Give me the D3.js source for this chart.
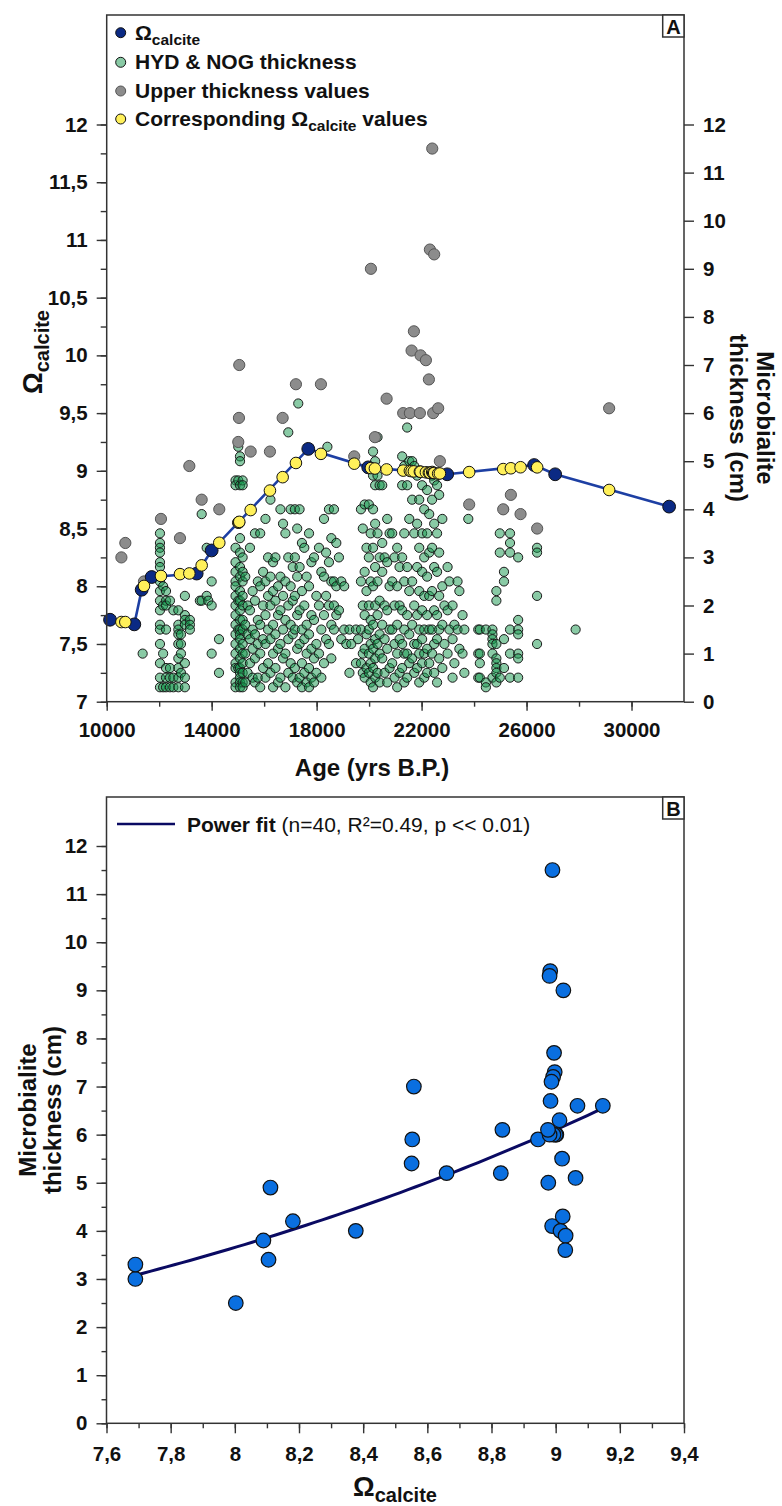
<!DOCTYPE html>
<html>
<head>
<meta charset="utf-8">
<script src="https://cdn.jsdelivr.net/npm/d3@7"></script>
<style>
  body { margin: 0; background: #fff; }
  svg text { font-family: "Liberation Sans", Arial, sans-serif; font-weight: bold; fill: #111; }
</style>
</head>
<body>
<svg id="chart" width="782" height="1506"></svg>
<script>
// Ωcalcite record (blue line)
const omegaAge = [10127, 11052, 11333, 11714, 13429, 14000, 17681, 19966, 22975, 26290, 27090, 31433];
const omegaVal = [7.71, 7.67, 7.97, 8.08, 8.11, 8.31, 9.19, 9.03, 8.97, 9.05, 8.97, 8.69];

// upper thickness values, their ages and the corresponding Ωcalcite
const upperAge = [10560, 10710, 11421, 12068, 12792, 13149, 13619, 14290, 15014, 15040, 15052, 15486, 16221, 16705,
  17211, 18164, 19433, 20069, 20221, 20667, 21299, 21554, 21619, 21707, 21935, 21962, 22164, 22278, 22316, 22406,
  22442, 22480, 22632, 22697, 23813, 25110, 25402, 25771, 26404, 29147];
const upperThick = [3.0, 3.3, 2.5, 3.8, 3.4, 4.9, 4.2, 4.0, 5.4, 5.9, 7.0, 5.2, 5.2, 5.9,
  6.6, 6.6, 5.1, 9.0, 5.5, 6.3, 6.0, 6.0, 7.3, 7.7, 6.0, 7.2, 7.1, 6.7, 9.4, 11.5,
  6.0, 9.3, 6.1, 5.0, 4.1, 4.0, 4.3, 3.9, 3.6, 6.1];
const upperOmega = [7.690, 7.690, 8.003, 8.089, 8.105, 8.111, 8.181, 8.377, 8.551, 8.553, 8.558, 8.660, 8.829, 8.945,
  9.068, 9.147, 9.062, 9.024, 9.020, 9.012, 9.002, 9.000, 8.997, 8.995, 8.993, 8.992, 8.987, 8.984, 8.983, 8.990,
  8.981, 8.981, 8.976, 8.977, 8.989, 9.015, 9.022, 9.031, 9.030, 8.834];

// HYD & NOG thickness (cm), grouped by sample age
const hydNog = [
  [11370, [1.0]],
  [12030, [3.5, 3.3, 3.2, 3.1, 2.9, 2.8, 2.6, 2.5, 2.3, 2.1, 1.9, 1.6, 1.5, 1.2, 0.8, 0.5, 0.3]],
  [12150, [2.4, 2.0, 1.0, 0.3]],
  [12260, [2.3, 2.1, 2.0, 1.5, 0.7, 0.5, 0.3]],
  [12410, [2.1, 0.7, 0.5, 0.3]],
  [12540, [1.9, 0.5, 0.3]],
  [12730, [1.9, 1.6, 1.5, 1.4, 1.2, 0.9, 0.7, 0.5, 0.3]],
  [12830, [1.4, 1.2, 1.0, 0.6]],
  [12980, [2.2, 1.8, 1.7, 1.6, 0.8, 0.5, 0.3]],
  [13170, [1.7, 1.6, 1.5]],
  [13550, [2.1]],
  [13620, [3.9, 2.1]],
  [13810, [3.2, 2.2]],
  [13870, [2.1]],
  [14000, [2.5, 2.0, 1.0]],
  [14280, [1.3, 0.6]],
  [14910, [4.6, 4.5, 3.2, 2.9, 2.7, 2.5, 2.4, 2.2, 2.0, 1.8, 1.6, 1.4, 1.2, 1.0, 0.8, 0.7, 0.4, 0.3]],
  [15014, [5.3, 4.6, 2.1, 1.5, 0.7]],
  [15080, [5.1, 5.0, 4.5, 3.4, 3.1, 2.8, 2.6, 2.3, 2.1, 1.9, 1.7, 1.5, 1.4, 1.3, 1.1, 0.9, 0.7, 0.6, 0.5, 0.4, 0.3]],
  [15180, [4.6, 4.5, 3.0, 2.7, 2.5, 2.2, 2.0, 1.7, 1.5, 1.2, 1.0, 0.8, 0.6, 0.4, 0.3]],
  [15280, [2.6, 1.6, 1.0, 0.4]],
  [15370, [2.0, 1.4, 0.6]],
  [15460, [3.2, 1.9, 1.3, 0.8]],
  [15560, [2.3, 1.5, 1.1, 0.5]],
  [15650, [3.5, 2.1, 1.4, 0.9, 0.4]],
  [15760, [2.5, 1.7, 1.2, 0.5]],
  [15850, [3.5, 2.4, 1.6, 1.0, 0.3]],
  [15960, [2.7, 2.0, 1.3, 0.7]],
  [16050, [3.8, 2.5, 1.8, 1.2, 0.5]],
  [16150, [3.0, 2.2, 1.5, 0.8]],
  [16240, [4.2, 2.6, 2.0, 1.3, 0.6]],
  [16340, [2.9, 2.3, 1.6, 1.0, 0.3]],
  [16430, [3.0, 2.1, 1.4, 0.7]],
  [16530, [2.4, 1.8, 1.1, 0.4]],
  [16620, [4.0, 2.6, 1.9, 1.2, 0.5]],
  [16720, [3.7, 2.2, 1.5, 0.9]],
  [16810, [3.5, 2.5, 1.7, 1.0, 0.3]],
  [16920, [5.6, 3.0, 2.0, 1.3, 0.6]],
  [17010, [4.0, 2.4, 1.6, 0.8]],
  [17090, [2.8, 2.1, 1.4, 0.5]],
  [17170, [4.0, 3.0, 2.2, 1.5, 0.7]],
  [17260, [3.6, 2.6, 1.8, 1.1, 0.4]],
  [17300, [6.2]],
  [17350, [4.0, 2.8, 1.9, 1.2, 0.5]],
  [17440, [3.3, 2.3, 1.5, 0.8, 0.3]],
  [17530, [3.2, 2.0, 1.3, 0.6]],
  [17620, [2.6, 1.6, 1.0, 0.4]],
  [17710, [3.5, 2.4, 1.4, 0.7, 0.3]],
  [17800, [2.9, 1.8, 1.1, 0.5]],
  [17900, [3.0, 1.7, 0.9, 0.4]],
  [17990, [2.2, 1.2, 0.6]],
  [18090, [3.2, 2.0, 1.0]],
  [18180, [2.7, 1.5, 0.5]],
  [18280, [3.8, 2.6, 1.8, 0.8]],
  [18360, [3.1, 2.2, 1.3]],
  [18410, [5.3]],
  [18470, [4.0, 2.9, 2.0, 1.2]],
  [18560, [3.4, 2.5, 1.6, 0.9]],
  [18660, [4.0, 2.5, 2.0, 1.5]],
  [18750, [3.3, 2.4, 1.8]],
  [18850, [3.0, 1.9]],
  [18940, [2.5, 1.3]],
  [19050, [2.4, 1.5]],
  [19130, [1.2]],
  [19250, [1.5, 0.6]],
  [19320, [1.2]],
  [19500, [1.5, 0.8]],
  [19580, [1.3]],
  [19690, [4.0, 2.5, 1.5, 0.8]],
  [19760, [3.6, 2.0, 1.0, 0.6]],
  [19830, [4.1, 2.7, 1.8, 1.1, 0.5]],
  [19900, [3.2, 2.3, 1.4, 0.7]],
  [19990, [4.1, 3.0, 2.0, 1.5, 1.0, 0.6]],
  [20060, [3.5, 2.5, 1.7, 1.2, 0.8, 0.4]],
  [20150, [5.2, 4.7, 4.0, 3.2, 2.4, 1.6, 1.1, 0.7, 0.3]],
  [20230, [5.0, 4.5, 3.7, 2.8, 2.0, 1.3, 0.9, 0.5]],
  [20320, [5.5, 4.7, 3.5, 2.5, 1.8, 1.2, 0.6]],
  [20400, [4.5, 3.0, 2.1, 1.4, 1.0, 0.4]],
  [20500, [4.5, 3.3, 2.7, 1.6, 0.9]],
  [20590, [3.0, 2.0, 1.3, 0.6]],
  [20690, [3.8, 2.9, 1.9, 1.1, 0.4]],
  [20780, [3.5, 2.4, 1.5, 0.7]],
  [20880, [3.5, 2.5, 1.5, 0.8]],
  [20970, [3.0, 2.0, 1.2, 0.5]],
  [21070, [3.2, 2.4, 1.6, 1.0, 0.3]],
  [21160, [2.8, 2.0, 1.3, 0.6]],
  [21260, [5.1, 4.5, 3.0, 1.9, 1.2, 0.7]],
  [21340, [4.9, 3.5, 2.5, 1.5, 1.0, 0.4]],
  [21450, [5.7, 4.5, 2.8, 1.8, 1.0, 0.5]],
  [21530, [5.0, 3.8, 2.3, 1.4, 0.8]],
  [21640, [5.0, 4.2, 2.5, 1.6, 0.9]],
  [21720, [4.9, 3.5, 2.0, 1.2, 0.6]],
  [21830, [4.7, 3.7, 2.8, 1.8, 1.2, 0.7]],
  [21910, [4.2, 3.2, 2.3, 1.5, 1.0, 0.4]],
  [22020, [4.5, 3.5, 2.7, 1.9, 1.3, 0.8]],
  [22100, [4.0, 3.0, 2.2, 1.5, 1.0, 0.5]],
  [22210, [4.4, 3.5, 2.6, 1.8, 1.1, 0.6]],
  [22290, [3.9, 3.1, 2.2, 1.5, 0.8]],
  [22400, [4.7, 4.2, 3.2, 2.3, 1.5, 1.0]],
  [22480, [4.6, 3.7, 2.8, 1.9, 1.2, 0.6]],
  [22590, [4.5, 3.5, 2.7, 1.8, 1.3, 0.4]],
  [22670, [4.3, 3.1, 2.2, 1.5, 0.9]],
  [22790, [3.8, 2.4, 1.6, 0.7]],
  [22870, [2.0, 1.2]],
  [22990, [2.8, 1.9, 1.0]],
  [23060, [2.5, 1.5]],
  [23180, [2.0, 1.3, 0.5]],
  [23250, [1.6, 0.8]],
  [23370, [2.5, 1.5]],
  [23440, [2.3, 1.1]],
  [23560, [1.8, 1.0]],
  [23630, [1.5, 0.6]],
  [23780, [3.8]],
  [24160, [1.5, 1.0, 0.5]],
  [24220, [1.5, 1.0, 0.8, 0.5]],
  [24450, [1.5, 0.4, 0.3]],
  [24700, [1.5, 1.4, 1.3, 1.2, 1.0, 0.5]],
  [24850, [2.3, 2.1, 1.2, 0.9, 0.8, 0.7, 0.6, 0.4]],
  [24980, [3.5, 3.1, 0.5]],
  [25140, [4.0, 2.7, 2.5, 1.3, 0.7]],
  [25370, [3.5, 3.3, 3.1, 1.5, 1.0, 0.5]],
  [25680, [3.0, 1.7, 1.5, 1.4, 1.0, 0.9, 0.5]],
  [26400, [3.2, 3.1, 2.2, 1.2]],
  [27870, [1.5]]
];

// power fit of thickness against Ωcalcite (panel B)
const fitCoef = 4.31e-4;
const fitExp = 4.35;

const ageTicks = [10000, 14000, 18000, 22000, 26000, 30000];
const legendA = ["Ω", "HYD & NOG thickness", "Upper thickness values", "Corresponding Ω"];

const svg = d3.select("#chart");
const comma = (d) => String(+d.toFixed(2)).replace(".", ",");
const axisColor = "#333";

function styleAxis(g, size) {
  g.select(".domain").remove();
  g.selectAll("line").attr("stroke", axisColor).attr("stroke-width", 1.4);
  g.selectAll("text").style("font-size", size + "px").attr("fill", "#111");
}

// ---------------- panel A ----------------
const A = { left: 106.7, right: 684, top: 15, bottom: 701.7 };
const xAge = d3.scaleLinear().domain([10000, 32000]).range([A.left, A.right]);
const yOmega = d3.scaleLinear().domain([7, 12]).range([A.bottom, 124.5]);
const yThick = d3.scaleLinear().domain([0, 12]).range([A.bottom, 124.5]);

const gA = svg.append("g");

const greens = hydNog.flatMap(([age, vals]) => vals.map((v) => [age, v]));
gA.append("g")
  .selectAll("circle")
  .data(greens)
  .enter()
  .append("circle")
  .attr("cx", (d) => xAge(d[0]))
  .attr("cy", (d) => yThick(d[1]))
  .attr("r", 4.6)
  .attr("fill", "rgb(20,150,75)")
  .attr("fill-opacity", 0.5)
  .attr("stroke", "#1a1a1a")
  .attr("stroke-width", 1);

gA.append("g")
  .selectAll("circle")
  .data(upperAge)
  .enter()
  .append("circle")
  .attr("cx", (d) => xAge(d))
  .attr("cy", (d, i) => yThick(upperThick[i]))
  .attr("r", 5.6)
  .attr("fill", "#8c8c8c")
  .attr("stroke", "#555")
  .attr("stroke-width", 1);

const line = d3
  .line()
  .x((d) => xAge(d[0]))
  .y((d) => yOmega(d[1]));
gA.append("path")
  .datum(omegaAge.map((d, i) => [d, omegaVal[i]]))
  .attr("fill", "none")
  .attr("stroke", "#1d3fa3")
  .attr("stroke-width", 2.6)
  .attr("d", line);

gA.append("g")
  .selectAll("circle")
  .data(omegaAge)
  .enter()
  .append("circle")
  .attr("cx", (d) => xAge(d))
  .attr("cy", (d, i) => yOmega(omegaVal[i]))
  .attr("r", 6.4)
  .attr("fill", "#0b2a84")
  .attr("stroke", "#111")
  .attr("stroke-width", 1);

gA.append("g")
  .selectAll("circle")
  .data(upperAge)
  .enter()
  .append("circle")
  .attr("cx", (d) => xAge(d))
  .attr("cy", (d, i) => yOmega(upperOmega[i]))
  .attr("r", 5.8)
  .attr("fill", "#fff05a")
  .attr("stroke", "#111")
  .attr("stroke-width", 1);

// frame
gA.append("rect")
  .attr("x", A.left).attr("y", A.top)
  .attr("width", A.right - A.left).attr("height", A.bottom - A.top)
  .attr("fill", "none").attr("stroke", axisColor).attr("stroke-width", 1.5);

// left axis
gA.append("g").attr("transform", `translate(${A.left},0)`)
  .call(d3.axisLeft(yOmega).tickValues(d3.range(28, 49).map((d) => d / 4)).tickSize(6).tickFormat(""))
  .call((g) => styleAxis(g, 20));
gA.append("g").attr("transform", `translate(${A.left},0)`)
  .call(d3.axisLeft(yOmega).tickValues(d3.range(14, 25).map((d) => d / 2)).tickSize(10).tickPadding(9).tickFormat(comma))
  .call((g) => styleAxis(g, 20.5));

// right axis
gA.append("g").attr("transform", `translate(${A.right},0)`)
  .call(d3.axisRight(yThick).tickValues(d3.range(0, 13)).tickSize(10).tickPadding(9))
  .call((g) => styleAxis(g, 20.5));

// bottom axis
gA.append("g").attr("transform", `translate(0,${A.bottom})`)
  .call(d3.axisBottom(xAge).tickValues(d3.range(10000, 32000, 2000)).tickSize(5).tickFormat(""))
  .call((g) => styleAxis(g, 20));
gA.append("g").attr("transform", `translate(0,${A.bottom})`)
  .call(d3.axisBottom(xAge).tickValues(ageTicks).tickSize(9).tickPadding(12).tickFormat(d3.format("d")))
  .call((g) => styleAxis(g, 20.5));

gA.append("text").attr("x", 372).attr("y", 776).attr("text-anchor", "middle")
  .style("font-size", "24px").text("Age (yrs B.P.)");

const omTitle = gA.append("text").attr("transform", "translate(42,352) rotate(-90)")
  .attr("text-anchor", "middle").style("font-size", "27px");
omTitle.append("tspan").text("Ω");
omTitle.append("tspan").attr("dy", 7).style("font-size", "20px").text("calcite");

const thTitle = gA.append("text").attr("transform", "translate(757,418) rotate(90)")
  .attr("text-anchor", "middle").style("font-size", "24px");
thTitle.append("tspan").attr("x", 0).attr("y", 0).text("Microbialite");
thTitle.append("tspan").attr("x", 0).attr("y", 27).text("thickness (cm)");

// legend A
const legColors = ["#0b2a84", "rgb(20,150,75)", "#8c8c8c", "#fff05a"];
const legY = [32.7, 62.3, 91, 119];
legendA.forEach((label, i) => {
  gA.append("circle").attr("cx", 120.7).attr("cy", legY[i]).attr("r", 5)
    .attr("fill", legColors[i]).attr("fill-opacity", i === 1 ? 0.5 : 1)
    .attr("stroke", i === 2 ? "#555" : "#111").attr("stroke-width", 1);
  const t = gA.append("text").attr("x", 135).attr("y", legY[i] + 7).style("font-size", "21px");
  t.append("tspan").text(label);
  if (i === 0 || i === 3) {
    t.append("tspan").attr("dy", 5).style("font-size", "15.5px").text("calcite");
  }
  if (i === 3) {
    t.append("tspan").attr("dy", -5).text(" values");
  }
});

gA.append("rect").attr("x", 662.7).attr("y", A.top).attr("width", A.right - 662.7).attr("height", 22)
  .attr("fill", "#fff").attr("stroke", axisColor).attr("stroke-width", 1.5);
gA.append("text").attr("x", 673.4).attr("y", 33.5).attr("text-anchor", "middle")
  .style("font-size", "20px").text("A");

// ---------------- panel B ----------------
const B = { left: 106.5, right: 684, top: 797, bottom: 1423.3 };
const xOm = d3.scaleLinear().domain([7.6, 9.4]).range([B.left, B.right]);
const yTh = d3.scaleLinear().domain([0, 12]).range([B.bottom, 846]);

const gB = svg.append("g");

gB.append("rect")
  .attr("x", B.left).attr("y", B.top)
  .attr("width", B.right - B.left).attr("height", B.bottom - B.top)
  .attr("fill", "none").attr("stroke", axisColor).attr("stroke-width", 1.5);

gB.append("g").attr("transform", `translate(${B.left},0)`)
  .call(d3.axisLeft(yTh).tickValues(d3.range(0, 25).map((d) => d / 2)).tickSize(5).tickFormat(""))
  .call((g) => styleAxis(g, 20));
gB.append("g").attr("transform", `translate(${B.left},0)`)
  .call(d3.axisLeft(yTh).tickValues(d3.range(0, 13)).tickSize(10).tickPadding(9))
  .call((g) => styleAxis(g, 20.5));

gB.append("g").attr("transform", `translate(0,${B.bottom})`)
  .call(d3.axisBottom(xOm).tickValues(d3.range(76, 95).map((d) => d / 10)).tickSize(5).tickFormat(""))
  .call((g) => styleAxis(g, 20));
gB.append("g").attr("transform", `translate(0,${B.bottom})`)
  .call(d3.axisBottom(xOm).tickValues(d3.range(38, 48).map((d) => d / 5)).tickSize(10).tickPadding(13).tickFormat(comma))
  .call((g) => styleAxis(g, 20.5));

const [omMin, omMax] = d3.extent(upperOmega);
const fitPts = d3.range(0, 61).map((i) => {
  const x = omMin + ((omMax - omMin) * i) / 60;
  return [x, fitCoef * Math.pow(x, fitExp)];
});
gB.append("path")
  .datum(fitPts)
  .attr("fill", "none")
  .attr("stroke", "#0a0a62")
  .attr("stroke-width", 3)
  .attr("d", d3.line().x((d) => xOm(d[0])).y((d) => yTh(d[1])));

gB.append("g")
  .selectAll("circle")
  .data(upperOmega)
  .enter()
  .append("circle")
  .attr("cx", (d) => xOm(d))
  .attr("cy", (d, i) => yTh(upperThick[i]))
  .attr("r", 7.3)
  .attr("fill", "#0a6fe0")
  .attr("stroke", "#111")
  .attr("stroke-width", 1.2);

// legend B
gB.append("line").attr("x1", 117).attr("x2", 175).attr("y1", 824).attr("y2", 824)
  .attr("stroke", "#0a0a62").attr("stroke-width", 2.5);
const lb = gB.append("text").attr("x", 187).attr("y", 831.5).style("font-size", "21px");
lb.append("tspan").text("Power fit ");
lb.append("tspan").style("font-weight", "normal").text("(n=" + upperOmega.length + ", R²=0.49, p << 0.01)");

gB.append("rect").attr("x", 662.7).attr("y", B.top).attr("width", B.right - 662.7).attr("height", 22)
  .attr("fill", "#fff").attr("stroke", axisColor).attr("stroke-width", 1.5);
gB.append("text").attr("x", 673.4).attr("y", B.top + 18.5).attr("text-anchor", "middle")
  .style("font-size", "20px").text("B");

const bY = gB.append("text").attr("transform", "translate(36,1110) rotate(-90)")
  .attr("text-anchor", "middle").style("font-size", "24px");
bY.append("tspan").attr("x", 0).attr("y", 0).text("Microbialite");
bY.append("tspan").attr("x", 0).attr("y", 25).text("thickness (cm)");

const bX = gB.append("text").attr("x", 395).attr("y", 1496).attr("text-anchor", "middle").style("font-size", "27px");
bX.append("tspan").text("Ω");
bX.append("tspan").attr("dy", 6).style("font-size", "20px").text("calcite");
</script>
</body>
</html>
